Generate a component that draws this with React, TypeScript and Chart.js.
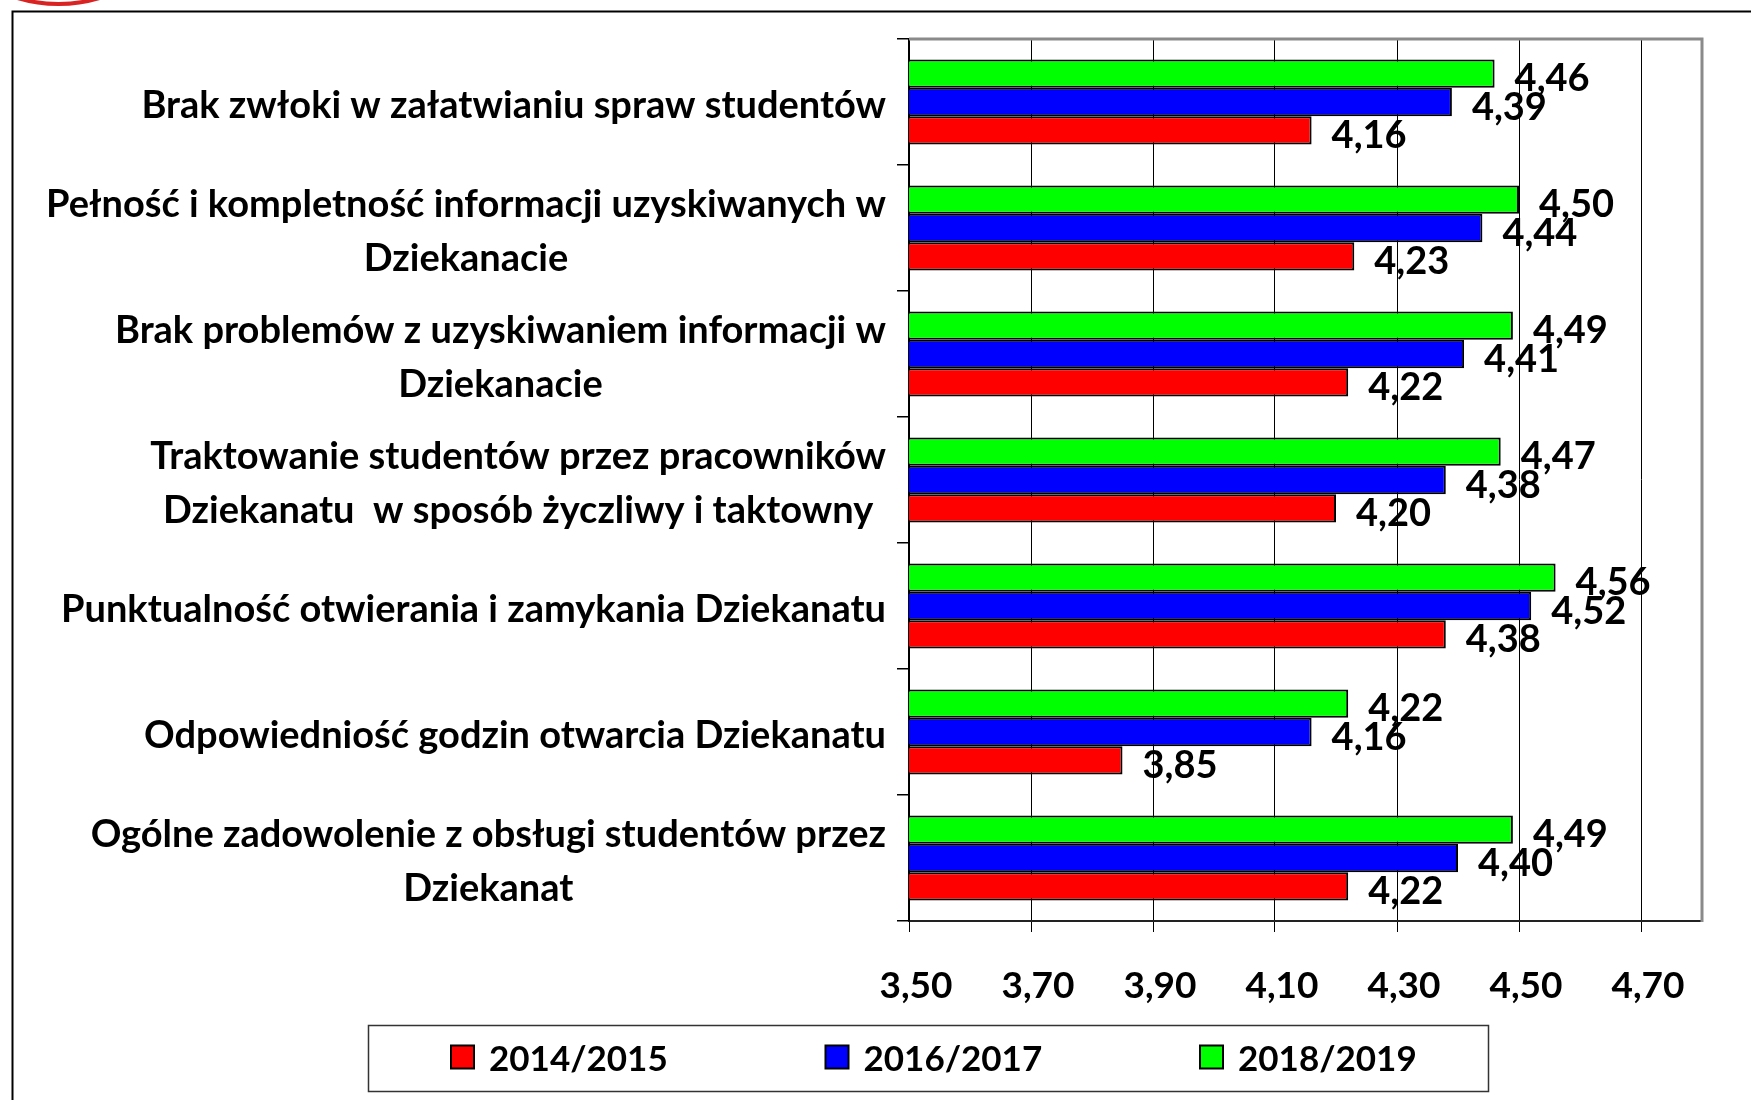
import React, { useEffect, useRef } from "react";
import { Chart, registerables } from "chart.js";

Chart.register(...registerables);

// ---------- data ----------
const categoryLines: string[][] = [
  ["Brak zwłoki w załatwianiu spraw studentów"],
  ["Pełność i kompletność informacji uzyskiwanych w", "Dziekanacie"],
  ["Brak problemów z uzyskiwaniem informacji w", "Dziekanacie"],
  ["Traktowanie studentów przez pracowników", "Dziekanatu  w sposób życzliwy i taktowny"],
  ["Punktualność otwierania i zamykania Dziekanatu"],
  ["Odpowiedniość godzin otwarcia Dziekanatu"],
  ["Ogólne zadowolenie z obsługi studentów przez", "Dziekanat"],
];
const seriesNames = ["2014/2015", "2016/2017", "2018/2019"];
const values20142015 = [4.16, 4.23, 4.22, 4.2, 4.38, 3.85, 4.22];
const values20162017 = [4.39, 4.44, 4.41, 4.38, 4.52, 4.16, 4.4];
const values20182019 = [4.46, 4.5, 4.49, 4.47, 4.56, 4.22, 4.49];
const xTickValues = [3.5, 3.7, 3.9, 4.1, 4.3, 4.5, 4.7];
const xMin = 3.5;
const xMax = 4.8;

// ---------- style ----------
const seriesColors = ["#FF0000", "#0000FF", "#00FF00"];
const FONT_FAMILY = "Lato, 'Noto Sans', sans-serif";
const LABEL_SIZE = 38;
const VALUE_SIZE = 38;
const TICK_SIZE = 37;
const LEGEND_SIZE = 35;
const CAP = 0.7165;
const fmt = (v: number) => v.toFixed(2).replace(".", ",");

const W = 1751;
const H = 1100;
const PLOT_LEFT = 909;
const PLOT_RIGHT = 1702;
const PLOT_TOP = 39;
const PLOT_BOTTOM = 921;
const X_AXIS_HEIGHT = 100;

const decorPlugin = {
  id: "decor",
  beforeDraw(chart: any) {
    const ctx = chart.ctx;
    ctx.save();
    ctx.fillStyle = "#fff";
    ctx.fillRect(0, 0, W, H);
    // red logo arc at top-left
    ctx.beginPath();
    ctx.strokeStyle = "#D92222";
    ctx.lineWidth = 4;
    ctx.arc(58.5, -140, 144, 0, Math.PI * 2);
    ctx.stroke();
    // outer frame
    ctx.strokeStyle = "#000";
    ctx.lineWidth = 2;
    ctx.beginPath();
    ctx.moveTo(W + 5, 11.5);
    ctx.lineTo(12.5, 11.5);
    ctx.lineTo(12.5, H + 5);
    ctx.stroke();
    ctx.restore();
  },
  afterDraw(chart: any) {
    const ctx = chart.ctx;
    const area = chart.chartArea;
    ctx.save();
    // plot border top & right (gray)
    ctx.strokeStyle = "#8a8a8a";
    ctx.lineWidth = 3;
    ctx.beginPath();
    ctx.moveTo(area.left, area.top);
    ctx.lineTo(area.right, area.top);
    ctx.lineTo(area.right, area.bottom + 1);
    ctx.stroke();

    // y category labels: each block right-aligned, lines centred within the block
    const yScale = chart.scales.y;
    ctx.fillStyle = "#000";
    ctx.font = `bold ${LABEL_SIZE}px ${FONT_FAMILY}`;
    ctx.textAlign = "center";
    ctx.textBaseline = "alphabetic";
    const labelRight = 886;
    const lineGap = 54;
    categoryLines.forEach((lines, i) => {
      const yc = yScale.getPixelForValue(i) + 2;
      const blockW = Math.max(...lines.map((l) => ctx.measureText(l).width));
      const cx = labelRight - blockW / 2;
      lines.forEach((line, j) => {
        const capCenter = yc + (j - (lines.length - 1) / 2) * lineGap;
        ctx.fillText(line, cx, capCenter + (CAP * LABEL_SIZE) / 2);
      });
    });

    // data labels
    ctx.font = `bold ${VALUE_SIZE}px ${FONT_FAMILY}`;
    ctx.textAlign = "left";
    chart.data.datasets.forEach((ds: any, di: number) => {
      const meta = chart.getDatasetMeta(di);
      meta.data.forEach((el: any, i: number) => {
        const v = ds.data[i];
        ctx.fillText(fmt(v), el.x + 20, el.y + 4 + (CAP * VALUE_SIZE) / 2);
      });
    });

    // legend
    const boxL = 368, boxT = 1025, boxR = 1488, boxB = 1091;
    ctx.strokeStyle = "#333";
    ctx.lineWidth = 1.5;
    ctx.strokeRect(boxL + 0.5, boxT + 0.5, boxR - boxL, boxB - boxT);
    ctx.font = `bold ${LEGEND_SIZE}px ${FONT_FAMILY}`;
    const itemStart = 451;
    const itemPitch = 374.5;
    const sq = 23;
    const midY = 1057;
    seriesNames.forEach((name, k) => {
      const x = itemStart + k * itemPitch;
      ctx.fillStyle = seriesColors[k];
      ctx.fillRect(x, midY - sq / 2, sq, sq);
      ctx.strokeStyle = "#000";
      ctx.lineWidth = 2;
      ctx.strokeRect(x, midY - sq / 2, sq, sq);
      ctx.fillStyle = "#000";
      ctx.fillText(name, x + sq + 15, midY + 1 + (CAP * LEGEND_SIZE) / 2);
    });
    ctx.restore();
  },
};

export default function App() {
  const ref = useRef<HTMLCanvasElement | null>(null);
  useEffect(() => {
    document.body.style.margin = "0";
    document.body.style.overflow = "hidden";
    const canvas = ref.current;
    if (!canvas) return;
    const tickFont = { family: FONT_FAMILY, size: TICK_SIZE, weight: "bold" as const };
    const seriesValues = [values20142015, values20162017, values20182019];
    // top-to-bottom within each group: 2018/2019, 2016/2017, 2014/2015
    const order = [2, 1, 0];
    const chart = new Chart(canvas, {
      type: "bar",
      data: {
        labels: categoryLines.map((l) => l.join(" ")),
        datasets: order.map((k) => ({
          label: seriesNames[k],
          data: seriesValues[k],
          backgroundColor: seriesColors[k],
          borderColor: "#000",
          borderWidth: 2,
          borderSkipped: false,
          categoryPercentage: 0.675,
          barPercentage: 1.0,
        })),
      },
      options: {
        indexAxis: "y",
        responsive: false,
        animation: false,
        devicePixelRatio: 1,
        layout: {
          padding: {
            left: 0,
            top: PLOT_TOP,
            right: W - PLOT_RIGHT,
            bottom: H - PLOT_BOTTOM - X_AXIS_HEIGHT,
          },
        },
        plugins: {
          legend: { display: false },
          tooltip: { enabled: false },
        },
        scales: {
          x: {
            type: "linear",
            min: xMin,
            max: xMax,
            afterBuildTicks: (scale: any) => {
              scale.ticks = xTickValues.map((v) => ({ value: v }));
            },
            afterFit: (scale: any) => {
              scale.height = X_AXIS_HEIGHT;
            },
            ticks: {
              font: tickFont,
              color: "#000",
              padding: 32,
              labelOffset: 7,
              maxRotation: 0,
              autoSkip: false,
              callback: (v: any) => fmt(Number(v)),
            },
            grid: { color: "#000", lineWidth: 1, tickLength: 11, drawTicks: true },
            border: { color: "#222", width: 2 },
          },
          y: {
            type: "category",
            offset: true,
            afterFit: (scale: any) => {
              scale.width = PLOT_LEFT;
            },
            ticks: { display: false },
            grid: {
              offset: true,
              drawOnChartArea: false,
              drawTicks: true,
              tickLength: 12,
              color: "#000",
              lineWidth: 1.5,
            },
            border: { color: "#000", width: 2 },
          },
        },
      },
      plugins: [decorPlugin],
    });
    return () => chart.destroy();
  }, []);
  return (
    <div style={{ position: "fixed", left: 0, top: 0, width: W, height: H, background: "#fff" }}>
      <canvas ref={ref} width={W} height={H} style={{ display: "block", width: W, height: H }} />
    </div>
  );
}
